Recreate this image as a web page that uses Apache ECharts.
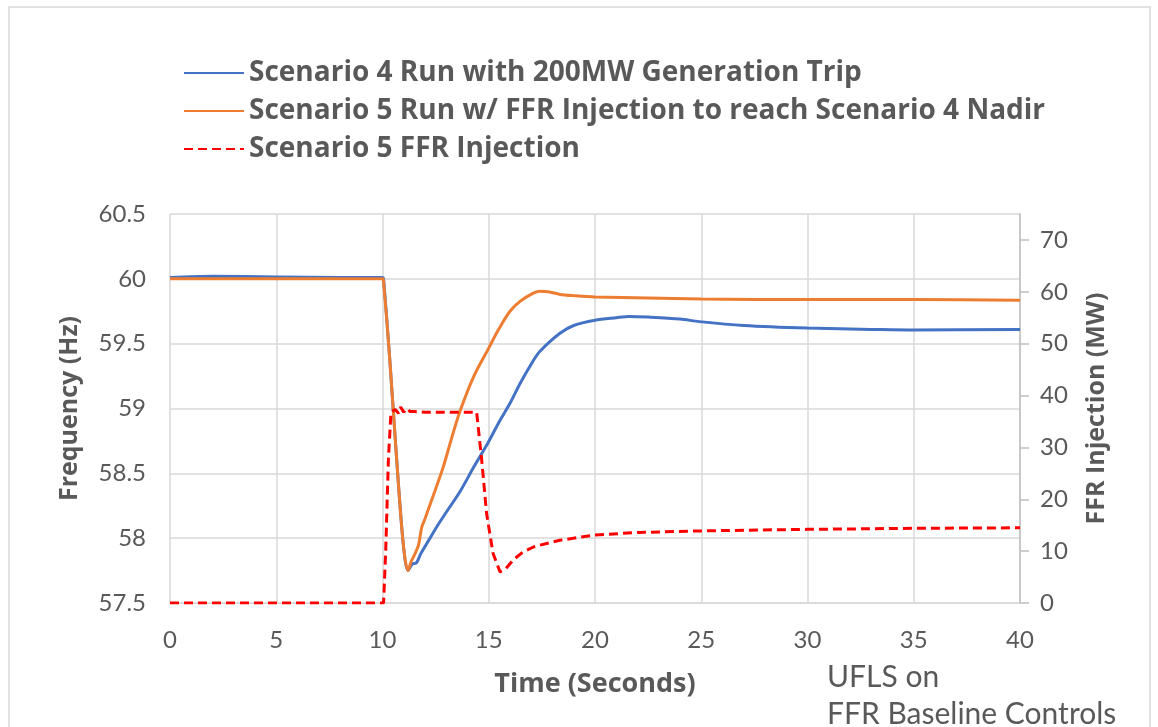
<!DOCTYPE html>
<html>
<head>
<meta charset="utf-8">
<script src="https://cdn.jsdelivr.net/npm/echarts@6/dist/echarts.min.js"></script>
<style>
  html, body { margin: 0; padding: 0; background: #fff; }
  #chart { width: 1158px; height: 727px; }
</style>
</head>
<body>
<div id="chart"></div>
<script>
// Scenario 4 (blue) - time in s, frequency in Hz
const s4Time = [0, 2, 5, 8, 10, 10.05, 10.35, 10.67, 10.98, 11.2, 11.4, 11.6, 11.8, 12.16, 12.6, 13.0, 13.65, 14.3, 14.98, 15.5, 16.0, 16.5, 17.1, 17.4, 18.35, 19, 20, 21, 21.6, 22.5, 24, 24.9, 27, 30, 33, 35, 40];
const s4Freq = [60.01, 60.02, 60.015, 60.01, 60.01, 60.0, 59.36, 58.6, 57.95, 57.75, 57.8, 57.81, 57.88, 57.98, 58.1, 58.2, 58.36, 58.55, 58.74, 58.9, 59.04, 59.2, 59.37, 59.44, 59.58, 59.64, 59.68, 59.70, 59.71, 59.705, 59.69, 59.67, 59.64, 59.62, 59.61, 59.605, 59.61];

// Scenario 5 (orange)
const s5Time = [0, 10, 10.05, 10.35, 10.67, 10.98, 11.2, 11.35, 11.53, 11.7, 11.84, 12.0, 12.24, 12.5, 12.86, 13.25, 13.65, 14.3, 14.98, 15.5, 16.0, 16.5, 17.1, 17.4, 17.8, 18.35, 19, 20, 25, 30, 35, 40];
const s5Freq = [60.0, 60.0, 59.98, 59.36, 58.6, 57.95, 57.75, 57.82, 57.88, 57.95, 58.08, 58.15, 58.26, 58.38, 58.55, 58.77, 58.98, 59.25, 59.46, 59.62, 59.75, 59.83, 59.89, 59.905, 59.9, 59.88, 59.87, 59.86, 59.845, 59.84, 59.84, 59.835];

// Scenario 5 FFR injection (red dashed) - MW
const ffrTime = [0, 10.05, 10.15, 10.28, 10.4, 10.6, 10.75, 10.85, 11.0, 11.15, 11.3, 11.5, 12, 14.43, 14.67, 14.9, 15.2, 15.53, 15.8, 16.15, 16.6, 17.1, 17.4, 18.35, 20, 22, 25, 30, 35, 40];
const ffrMW = [0, 0, 10, 28, 36.8, 37.3, 36.6, 37.8, 36.8, 37.5, 36.9, 36.9, 36.8, 36.8, 27.5, 17.2, 9.6, 6.0, 6.6, 8.3, 9.8, 10.8, 11.15, 12.1, 13.1, 13.6, 13.9, 14.2, 14.4, 14.5];

const seriesNames = [
  'Scenario 4 Run with 200MW Generation Trip',
  'Scenario 5 Run w/ FFR Injection to reach Scenario 4 Nadir',
  'Scenario 5 FFR Injection'
];
const rightTicks = [0, 10, 20, 30, 40, 50, 60, 70];

const pair = (xs, ys) => xs.map((x, i) => [x, ys[i]]);

const FONT = 'Lato';
const BOLD_FONT = 'Open Sans';
const GREY = '#595959';
const GRID = '#d9d9d9';

const chart = echarts.init(document.getElementById('chart'));
chart.setOption({
  animation: false,
  textStyle: { fontFamily: FONT },
  legend: {
    orient: 'vertical',
    left: 178,
    top: 51,
    itemWidth: 60,
    itemHeight: 14,
    itemGap: 4,
    itemStyle: { opacity: 0 },
    data: seriesNames,
    textStyle: { fontSize: 28, fontWeight: 'bold', color: GREY, fontFamily: BOLD_FONT, lineHeight: 34 }
  },
  grid: { left: 170, right: 138, top: 214, bottom: 124 },
  xAxis: {
    type: 'value',
    min: 0, max: 40, interval: 5,
    name: 'Time (Seconds)',
    nameLocation: 'middle',
    nameGap: 68,
    nameTextStyle: { fontSize: 27, fontWeight: 'bold', color: GREY, fontFamily: BOLD_FONT },
    axisLine: { lineStyle: { color: GRID, width: 1.5 } },
    axisTick: { show: false },
    axisLabel: { fontSize: 24, color: GREY, margin: 25 },
    splitLine: { lineStyle: { color: GRID, width: 1.5 } }
  },
  yAxis: [
    {
      type: 'value',
      min: 57.5, max: 60.5, interval: 0.5,
      name: 'Frequency (Hz)',
      nameLocation: 'middle',
      nameGap: 88,
      nameTextStyle: { fontSize: 25, fontWeight: 'bold', color: GREY, fontFamily: BOLD_FONT },
      axisLine: { show: false },
      axisTick: { show: false },
      axisLabel: { fontSize: 24, color: GREY, margin: 24 },
      splitLine: { lineStyle: { color: GRID, width: 1.5 } }
    },
    {
      type: 'value',
      position: 'right',
      min: 0, max: 75, interval: 10,
      name: 'FFR Injection (MW)',
      nameLocation: 'middle',
      nameGap: 64,
      nameTextStyle: { fontSize: 25, fontWeight: 'bold', color: GREY, fontFamily: BOLD_FONT },
      axisLine: { show: true, lineStyle: { color: '#bfbfbf', width: 1.5 } },
      axisTick: { show: true, length: 9, customValues: rightTicks, lineStyle: { color: '#bfbfbf', width: 1.5 } },
      axisLabel: { fontSize: 24, color: GREY, margin: 20, customValues: rightTicks },
      splitLine: { show: false }
    }
  ],
  series: [
    {
      name: seriesNames[0],
      type: 'line',
      yAxisIndex: 0,
      symbol: 'none',
      smooth: 0.3,
      color: '#4472C4',
      lineStyle: { width: 3, color: '#4472C4' },
      data: pair(s4Time, s4Freq)
    },
    {
      name: seriesNames[1],
      type: 'line',
      yAxisIndex: 0,
      symbol: 'none',
      smooth: 0.3,
      color: '#ED7D31',
      lineStyle: { width: 3, color: '#ED7D31' },
      data: pair(s5Time, s5Freq)
    },
    {
      name: seriesNames[2],
      type: 'line',
      yAxisIndex: 1,
      symbol: 'none',
      color: '#FF0000',
      lineStyle: { width: 3, color: '#FF0000', type: [9, 5] },
      data: pair(ffrTime, ffrMW)
    }
  ],
  graphic: [
    {
      type: 'rect',
      shape: { x: 9, y: 7, width: 1141, height: 760 },
      style: { fill: 'none', stroke: GRID, lineWidth: 1.5 },
      silent: true
    },
    {
      type: 'text',
      left: 827, top: 662,
      style: { text: 'UFLS on', fontSize: 30, fill: GREY, fontFamily: FONT }
    },
    {
      type: 'text',
      left: 827, top: 699,
      style: { text: 'FFR Baseline Controls', fontSize: 30, fill: GREY, fontFamily: FONT }
    }
  ]
});
</script>
</body>
</html>
